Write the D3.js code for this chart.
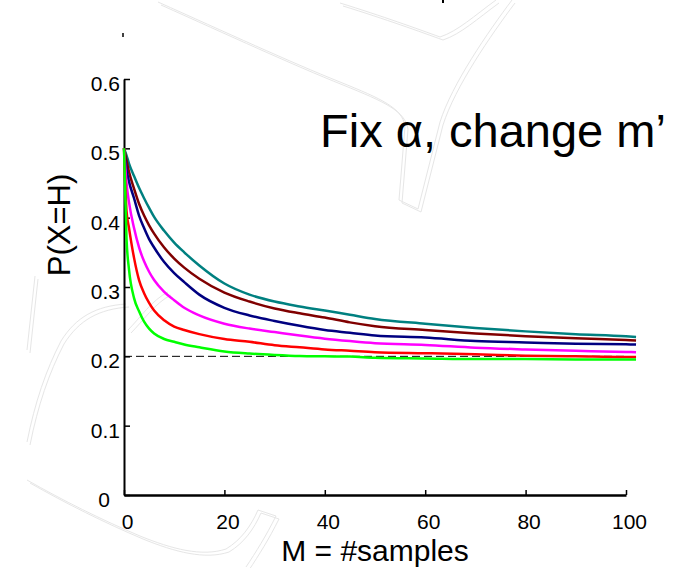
<!DOCTYPE html>
<html>
<head>
<meta charset="utf-8">
<script src="https://cdn.jsdelivr.net/npm/d3@7"></script>
<style>
    body { margin: 0; background: #fff; }
    svg { display: block; font-family: "Liberation Sans", Arial, sans-serif; }
</style>
</head>
<body>
<svg id="chart" width="680" height="568"></svg>
<script>
// M = number of samples, one shared grid for every curve
var samples = [0, 0.5, 1, 2, 3, 4, 5, 6, 8, 10, 12, 15, 20, 25, 30, 35, 40, 45, 50, 60, 70, 80, 90, 100, 102];

var tealValues = [0.50, 0.49, 0.478, 0.46, 0.443, 0.428, 0.414, 0.401, 0.381, 0.364, 0.350, 0.331, 0.305, 0.289, 0.279, 0.272, 0.266, 0.260, 0.254, 0.247, 0.241, 0.236, 0.232, 0.229, 0.228];
var brownValues = [0.50, 0.483, 0.466, 0.442, 0.420, 0.403, 0.389, 0.377, 0.357, 0.341, 0.328, 0.312, 0.292, 0.279, 0.269, 0.262, 0.256, 0.249, 0.2435, 0.238, 0.233, 0.229, 0.226, 0.2236, 0.223];
var blueValues = [0.50, 0.47, 0.452, 0.428, 0.403, 0.385, 0.369, 0.357, 0.336, 0.320, 0.307, 0.289, 0.270, 0.259, 0.251, 0.244, 0.238, 0.234, 0.230, 0.227, 0.222, 0.220, 0.218, 0.2173, 0.217];
var magentaValues = [0.50, 0.45, 0.422, 0.385, 0.357, 0.337, 0.322, 0.310, 0.293, 0.281, 0.270, 0.259, 0.247, 0.240, 0.235, 0.230, 0.2255, 0.222, 0.219, 0.2165, 0.2125, 0.210, 0.208, 0.2062, 0.206];
var redValues = [0.50, 0.41, 0.385, 0.342, 0.310, 0.291, 0.277, 0.266, 0.252, 0.243, 0.238, 0.232, 0.225, 0.221, 0.216, 0.213, 0.210, 0.208, 0.206, 0.2045, 0.203, 0.201, 0.200, 0.199, 0.199];
var greenValues = [0.50, 0.37, 0.325, 0.284, 0.265, 0.250, 0.240, 0.233, 0.225, 0.221, 0.217, 0.213, 0.207, 0.204, 0.202, 0.2005, 0.200, 0.1996, 0.198, 0.197, 0.196, 0.196, 0.1955, 0.1955, 0.1955];

var seriesColors = ["#008080", "#800000", "#000080", "#ff00ff", "#ff0000", "#00ff00"];
var seriesValues = [tealValues, brownValues, blueValues, magentaValues, redValues, greenValues];

var xTicks = [0, 20, 40, 60, 80, 100];
var yTicks = [0, 0.1, 0.2, 0.3, 0.4, 0.5, 0.6];
var asymptote = 0.2;

var svg = d3.select("#chart");

// faint sketch lines in the background of the slide
var sketch = [
    "M158,2 C225,32 290,62 340,82 C382,99 402,108 405,126 L399,200 L418,209 L440,122 C452,84 488,32 512,0",
    "M340,3 C382,16 418,29 440,37 C458,31 474,16 496,0",
    "M126,304 C96,306 76,317 61,341 C46,370 35,402 27,442",
    "M35,276 L27,350",
    "M27,480 C62,500 102,520 140,536 C172,549 202,557 226,549 C241,540 251,526 258,510 L276,516 C266,536 256,552 246,567",
    "M128,330 C140,318 152,300 168,292"
];
sketch.forEach(function (d) {
    [0, 3].forEach(function (off) {
        svg.append("path")
            .attr("d", d)
            .attr("transform", "translate(" + off + "," + off + ")")
            .attr("fill", "none")
            .attr("stroke", "#e6e6e6")
            .attr("stroke-width", 1);
    });
});

// leftovers of cut-off text at the top
svg.append("line").attr("x1", 123).attr("x2", 123).attr("y1", 33).attr("y2", 37)
    .attr("stroke", "#000").attr("stroke-width", 1.5);
svg.append("line").attr("x1", 443).attr("x2", 443).attr("y1", 0).attr("y2", 3)
    .attr("stroke", "#000").attr("stroke-width", 2);

var x = d3.scaleLinear().domain([0, 100]).range([124, 626]);
var y = d3.scaleLinear().domain([0, 0.6]).range([495, 79]);

// dashed line at the limit value
svg.append("line")
    .attr("x1", x(0))
    .attr("x2", x(100))
    .attr("y1", y(asymptote))
    .attr("y2", y(asymptote))
    .attr("stroke", "#000")
    .attr("stroke-width", 1)
    .attr("stroke-dasharray", "8,4");

var yAxis = svg.append("g")
    .attr("transform", "translate(" + x(0) + ",0)")
    .call(d3.axisLeft(y)
        .tickValues(yTicks)
        .tickSizeInner(-6)
        .tickSizeOuter(0)
        .tickPadding(4)
        .tickFormat(function (d) { return d === 0 ? "0" : d3.format(".1f")(d); }));

var xAxis = svg.append("g")
    .attr("transform", "translate(0," + y(0) + ")")
    .call(d3.axisBottom(x)
        .tickValues(xTicks)
        .tickSizeInner(-5)
        .tickSizeOuter(0)
        .tickPadding(19));

[yAxis, xAxis].forEach(function (ax) {
    ax.attr("font-size", null).attr("font-family", null);
    ax.select(".domain").attr("stroke", "#000");
    ax.selectAll(".tick line").attr("stroke", "#000").attr("stroke-width", 1.5);
    ax.selectAll(".tick text")
        .attr("fill", "#000")
        .style("font-size", "21px")
        .style("font-family", "'Liberation Sans', Arial, sans-serif");
});
yAxis.select(".domain").attr("stroke-width", 2);
xAxis.select(".domain").attr("stroke-width", 2.5);
yAxis.selectAll(".tick text").attr("dy", "0.55em");
yAxis.selectAll(".tick text").filter(function (d) { return d === 0; }).attr("dx", -10);
xAxis.selectAll(".tick text").attr("dx", 3);

// the curves
var line = d3.line()
    .x(function (d) { return x(d[0]); })
    .y(function (d) { return y(d[1]); })
    .curve(d3.curveMonotoneX);

svg.selectAll(".curve")
    .data(seriesValues)
    .enter()
    .append("path")
    .classed("curve", true)
    .attr("d", function (vals) { return line(samples.map(function (m, i) { return [m, vals[i]]; })); })
    .attr("fill", "none")
    .attr("stroke", function (d, i) { return seriesColors[i]; })
    .attr("stroke-width", 2.5);

// labels
svg.append("text")
    .attr("x", 375)
    .attr("y", 561)
    .attr("text-anchor", "middle")
    .attr("font-size", 30)
    .attr("fill", "#000")
    .text("M = #samples");

svg.append("text")
    .attr("transform", "translate(70,225) rotate(-90)")
    .attr("text-anchor", "middle")
    .attr("font-size", 31)
    .attr("fill", "#000")
    .text("P(X=H)");

svg.append("text")
    .attr("x", 320)
    .attr("y", 147)
    .attr("font-size", 47)
    .attr("fill", "#000")
    .text("Fix α, change m’");
</script>
</body>
</html>
